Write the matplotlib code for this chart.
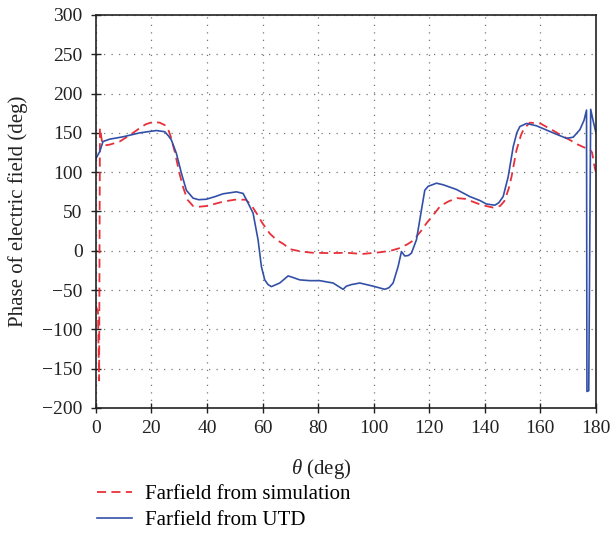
import matplotlib
matplotlib.use("Agg")
import matplotlib.pyplot as plt
import numpy as np

plt.rcParams['font.family'] = ['Liberation Serif', 'DejaVu Serif']
plt.rcParams['mathtext.fontset'] = 'custom'
plt.rcParams['mathtext.it'] = 'Liberation Serif:italic'
plt.rcParams['mathtext.rm'] = 'Liberation Serif'

sim_theta = [0, 0.8, 1.2, 1.5, 2.2, 3, 5, 8.6, 12.2, 15.8, 18, 20.6, 23, 24.8, 26, 27,
             28.5, 30, 31.5, 33, 35, 37, 40, 45.8, 50, 54, 56, 58, 60, 62.6, 65, 67.4,
             70, 74, 78, 85, 90, 96, 102, 106, 109, 112, 114.2, 117, 119, 122, 124, 127,
             130, 133, 136, 139, 143, 145.5, 147, 148.5, 149.6, 151.4, 153, 154, 156.2,
             160, 162, 164.6, 167, 170.6, 173, 175.4, 177.8, 178.6, 179.6, 180]
sim_phase = [-70, -78, -165, 156, 140, 134, 135, 139, 147, 156, 161, 164, 163, 160, 155, 145,
             125, 100, 80, 65, 57, 56, 57, 62.5, 65, 65, 58, 47, 35, 22, 14, 9,
             2, -1, -2.5, -3, -2.5, -4, -2, 0, 3, 8, 13, 25, 35, 48, 57, 63,
             67, 66, 62, 58, 55, 57, 63, 78, 94, 128, 147, 155, 163,
             162, 158, 153, 148, 141, 136, 132, 129, 125, 105, 100]

utd_theta = [0, 1.4, 2.6, 5, 9.8, 15.8, 21.8, 24.8, 26.2, 27.2, 29, 30.8, 32.6, 35, 37, 39.8,
             43, 45.8, 50.6, 53, 54.2, 56.6, 58.4, 59.6, 60.8, 62, 63.2, 66.2, 69.2, 71,
             73.4, 77, 80.6, 85.4, 89, 90.2, 92, 95, 99.8, 104, 105.5, 107, 108.8, 110,
             111.2, 112.5, 113.6, 115.4, 117.2, 118.4, 119.6, 122.6, 125, 129.8, 134.6,
             138.2, 140.6, 143.6, 145, 146.6, 148.4, 150.2, 151.5, 152.6, 155, 158.6,
             164.6, 169.4, 171.8, 174.2, 175.7, 176.6, 176.75, 177.4, 178.1, 179, 180]
utd_phase = [117, 126, 139, 142, 145, 150, 153, 151.5, 146, 141, 124, 99, 77, 67, 65, 65.6,
             69, 72.5, 75, 73, 65, 48, 14, -20, -37, -43, -45.6, -41, -32, -34,
             -37, -38, -38, -41, -49, -45, -43, -41, -45, -49, -47, -41, -20, -1,
             -6.6, -6, -3, 14, 52, 77, 82, 86, 84, 78, 69,
             64, 59.5, 58, 61, 69, 94, 132, 150, 158, 162, 159,
             150, 143, 144.5, 154, 166, 179, -179, -178, 180, 165, 150]

xticks = [0, 20, 40, 60, 80, 100, 120, 140, 160, 180]
yticks = [-200, -150, -100, -50, 0, 50, 100, 150, 200, 250, 300]

fig = plt.figure(figsize=(6.1, 5.35), dpi=100)
ax = fig.add_axes([0.157, 0.2374, 0.820, 0.7346])

l1, = ax.plot(sim_theta, sim_phase, color='#e8303a', lw=1.3, ls=(0, (5, 3)),
              label='Farfield from simulation')
l2, = ax.plot(utd_theta, utd_phase, color='#3350a8', lw=1.2,
              label='Farfield from UTD')

ax.set_xlim(0, 180)
ax.set_ylim(-200, 300)
ax.set_xticks(xticks)
ax.set_yticks(yticks)
ax.grid(True, color='#777777', ls=(0, (1, 5)), lw=0.9)
ax.tick_params(direction='inout', length=7, width=1, labelsize=14, colors='#222222', pad=5)
ax.tick_params(axis='y', pad=6)
for s in ax.spines.values():
    s.set_linewidth(1.2)
    s.set_color('#222222')

ax.set_xlabel(r'$\theta$ (deg)', fontsize=15, color='#222222')
ax.xaxis.set_label_coords(0.45, -0.125)
ax.set_ylabel('Phase of electric field (deg)', fontsize=15, color='#222222', labelpad=10)

fig.legend(handles=[l1, l2], loc='lower left', bbox_to_anchor=(0.128, -0.026),
           frameon=False, fontsize=15, handlelength=1.7, handletextpad=0.6,
           labelspacing=0.3)

fig.savefig('out.png', dpi=100)
